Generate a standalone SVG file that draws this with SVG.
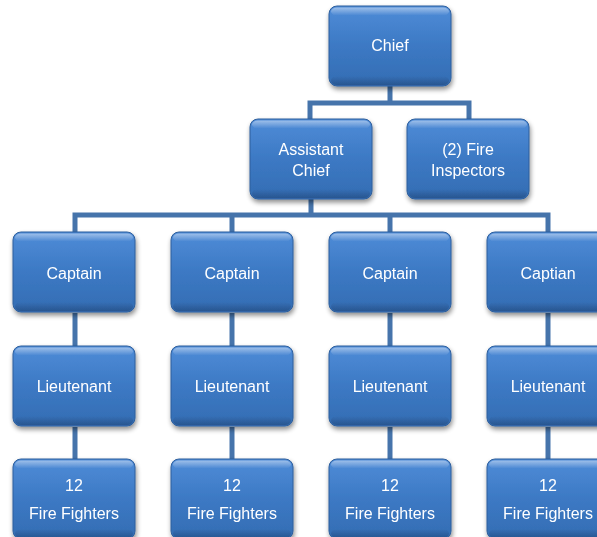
<svg xmlns="http://www.w3.org/2000/svg" width="597" height="537" viewBox="0 0 597 537">
<defs>
<linearGradient id="fill" x1="0" y1="0" x2="0" y2="1">
<stop offset="0" stop-color="#4f8cd8"/>
<stop offset="0.5" stop-color="#3c79c4"/>
<stop offset="1" stop-color="#346db3"/>
</linearGradient>
<linearGradient id="bevTop" x1="0" y1="0" x2="0" y2="1">
<stop offset="0" stop-color="#ffffff" stop-opacity="0.45"/>
<stop offset="1" stop-color="#ffffff" stop-opacity="0"/>
</linearGradient>
<linearGradient id="bevBot" x1="0" y1="0" x2="0" y2="1">
<stop offset="0" stop-color="#1d3f6e" stop-opacity="0"/>
<stop offset="1" stop-color="#1d3f6e" stop-opacity="0.5"/>
</linearGradient>
<filter id="sh" x="-10%" y="-10%" width="125%" height="130%">
<feGaussianBlur in="SourceAlpha" stdDeviation="2.5"/>
<feOffset dx="1" dy="3" result="b"/>
<feComponentTransfer><feFuncA type="linear" slope="0.45"/></feComponentTransfer>
<feMerge><feMergeNode/><feMergeNode in="SourceGraphic"/></feMerge>
</filter>
<g id="box">
<rect x="0" y="0" width="122" height="80" rx="8" fill="url(#fill)" stroke="#2f5f9c" stroke-width="1"/>
<rect x="2" y="1.5" width="118" height="8" rx="6" fill="url(#bevTop)"/>
<rect x="2" y="70" width="118" height="9" rx="6" fill="url(#bevBot)"/>
</g>
</defs>
<style>
.c{stroke:#4674ab;stroke-width:5;fill:none;stroke-linejoin:miter}
text{font-family:"Liberation Sans",Arial,sans-serif;font-size:16px;fill:#ffffff;text-anchor:middle}
</style>
<rect width="597" height="537" fill="#ffffff"/>
<g id="connectors" class="c">
<path d="M390 85V103M310 120V103H469V120"/>
<path d="M311 199V215M75 232V215H548V232M232 215V232M390 215V232"/>
<path d="M75 313V346M232 313V346M390 313V346M548 313V346"/>
<path d="M75 427V459M232 427V459M390 427V459M548 427V459"/>
</g>
<g id="chief" filter="url(#sh)"><use href="#box" x="329" y="6"/><text x="390" y="51">Chief</text></g>
<g id="assistant-chief" filter="url(#sh)"><use href="#box" x="250" y="119"/><text x="311" y="155">Assistant</text><text x="311" y="176">Chief</text></g>
<g id="fire-inspectors" filter="url(#sh)"><use href="#box" x="407" y="119"/><text x="468" y="155">(2) Fire</text><text x="468" y="176">Inspectors</text></g>
<g id="captain1" filter="url(#sh)"><use href="#box" x="13" y="232"/><text x="74" y="279">Captain</text></g>
<g id="captain2" filter="url(#sh)"><use href="#box" x="171" y="232"/><text x="232" y="279">Captain</text></g>
<g id="captain3" filter="url(#sh)"><use href="#box" x="329" y="232"/><text x="390" y="279">Captain</text></g>
<g id="captain4" filter="url(#sh)"><use href="#box" x="487" y="232"/><text x="548" y="279">Captian</text></g>
<g id="lieutenant1" filter="url(#sh)"><use href="#box" x="13" y="346"/><text x="74" y="392">Lieutenant</text></g>
<g id="lieutenant2" filter="url(#sh)"><use href="#box" x="171" y="346"/><text x="232" y="392">Lieutenant</text></g>
<g id="lieutenant3" filter="url(#sh)"><use href="#box" x="329" y="346"/><text x="390" y="392">Lieutenant</text></g>
<g id="lieutenant4" filter="url(#sh)"><use href="#box" x="487" y="346"/><text x="548" y="392">Lieutenant</text></g>
<g id="firefighters1" filter="url(#sh)"><use href="#box" x="13" y="459"/><text x="74" y="491">12</text><text x="74" y="519">Fire Fighters</text></g>
<g id="firefighters2" filter="url(#sh)"><use href="#box" x="171" y="459"/><text x="232" y="491">12</text><text x="232" y="519">Fire Fighters</text></g>
<g id="firefighters3" filter="url(#sh)"><use href="#box" x="329" y="459"/><text x="390" y="491">12</text><text x="390" y="519">Fire Fighters</text></g>
<g id="firefighters4" filter="url(#sh)"><use href="#box" x="487" y="459"/><text x="548" y="491">12</text><text x="548" y="519">Fire Fighters</text></g>
</svg>
